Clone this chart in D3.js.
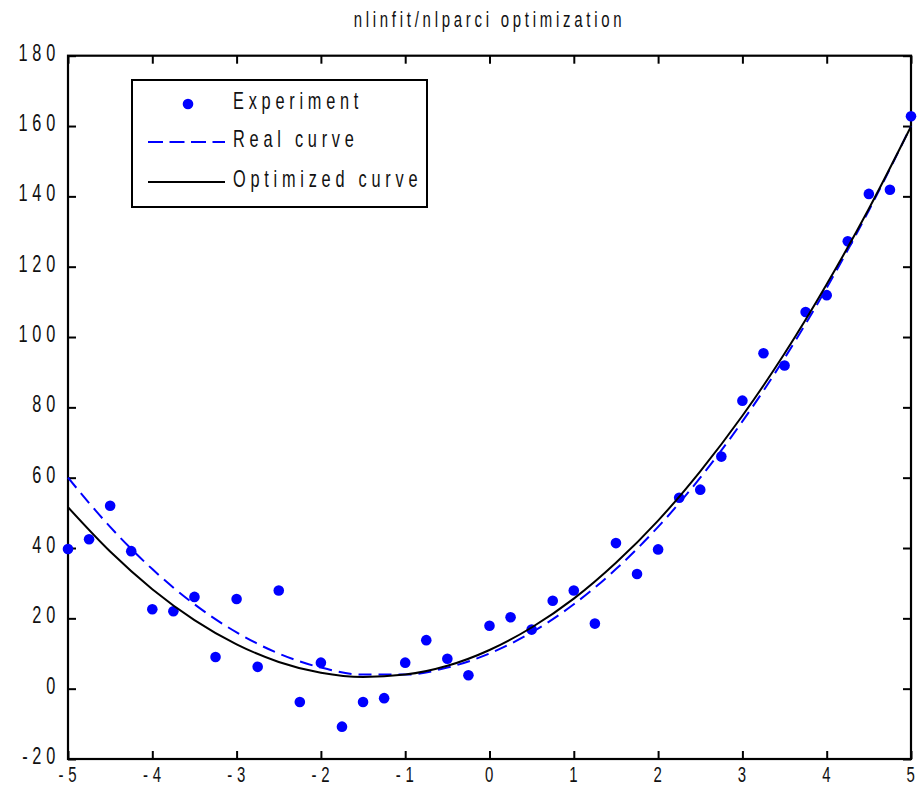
<!DOCTYPE html>
<html>
<head>
<meta charset="utf-8">
<script src="https://cdn.jsdelivr.net/npm/d3@7"></script>
<style>
  body { margin: 0; background: #fff; }
  svg { display: block; }
  text { font-family: "Liberation Sans", Arial, sans-serif; fill: #111; }
</style>
</head>
<body>
<div id="chart"></div>
<script>
'use strict';

// experiment x positions and measured values
var expX = [-5, -4.75, -4.5, -4.25, -4, -3.75, -3.5, -3.25, -3, -2.75, -2.5, -2.25, -2, -1.75, -1.5, -1.25, -1, -0.75, -0.5, -0.25,
            0, 0.25, 0.5, 0.75, 1, 1.25, 1.5, 1.75, 2, 2.25, 2.5, 2.75, 3, 3.25, 3.5, 3.75, 4, 4.25, 4.5, 4.75, 5];
var expY = [39.7, 42.5, 52.0, 39.1, 22.6, 22.0, 26.1, 9.0, 25.5, 6.2, 27.9, -3.8, 7.4, -10.8, -3.8, -2.7, 7.4, 13.8, 8.5, 3.8,
            17.9, 20.3, 16.8, 25.0, 27.9, 18.5, 41.4, 32.6, 39.6, 54.3, 56.6, 66.0, 81.9, 95.4, 91.9, 107.1, 111.9, 127.2, 140.7, 141.9, 162.8];

// curve sample positions
var curveX = [-5, -4.5, -4, -3.5, -3, -2.5, -2, -1.5, -1, -0.5, 0, 0.5, 1, 1.5, 2, 2.5, 3, 3.5, 4, 4.5, 5];
var realY  = [60, 46, 34, 24, 16, 10, 6, 4, 4, 6, 10, 16, 24, 34, 46, 60, 76, 94, 114, 136, 160];
var optY   = [51.6, 39.0, 28.3, 19.5, 12.6, 7.6, 4.5, 3.3, 4.0, 6.5, 11.0, 17.4, 25.6, 35.8, 47.8, 61.8, 77.6, 95.3, 115.0, 136.5, 159.9];

var xTicks = [-5, -4, -3, -2, -1, 0, 1, 2, 3, 4, 5];
var yTicks = [-20, 0, 20, 40, 60, 80, 100, 120, 140, 160, 180];

var legendLabels = ['Experiment', 'Real curve', 'Optimized curve'];
var titleText = 'nlinfit/nlparci optimization';

var W = 920, H = 788;
var plot = {left: 68, right: 911, top: 55.7, bottom: 759};
var blue = '#0000ff';

var svg = d3.select('#chart').append('svg')
  .attr('width', W)
  .attr('height', H);

var x = d3.scaleLinear().domain([-5, 5]).range([plot.left, plot.right]);
var y = d3.scaleLinear().domain([-20, 180]).range([plot.bottom, plot.top]);

// condensed, spaced text like the MATLAB export
function label(g, str, px, py, anchor, size, ls) {
  return g.append('text')
    .attr('transform', 'translate(' + px + ',' + py + ') scale(0.68,1)')
    .attr('text-anchor', anchor)
    .style('font-size', (size || 24) + 'px')
    .style('letter-spacing', (ls || 7) + 'px')
    .text(str);
}

// ticks on all four sides, pointing inward
var tk = 8;
svg.append('g').attr('transform', 'translate(0,' + plot.bottom + ')')
  .call(d3.axisBottom(x).tickValues(xTicks).tickSize(-tk).tickFormat(''));
svg.append('g').attr('transform', 'translate(0,' + plot.top + ')')
  .call(d3.axisTop(x).tickValues(xTicks).tickSize(-tk).tickFormat(''));
svg.append('g').attr('transform', 'translate(' + plot.left + ',0)')
  .call(d3.axisLeft(y).tickValues(yTicks).tickSize(-tk).tickFormat(''));
svg.append('g').attr('transform', 'translate(' + plot.right + ',0)')
  .call(d3.axisRight(y).tickValues(yTicks).tickSize(-tk).tickFormat(''));
svg.selectAll('.domain').remove();
svg.selectAll('.tick line').attr('stroke', '#000').attr('stroke-width', 2);

svg.append('rect')
  .attr('x', plot.left).attr('y', plot.top)
  .attr('width', plot.right - plot.left)
  .attr('height', plot.bottom - plot.top)
  .attr('fill', 'none')
  .attr('stroke', '#000')
  .attr('stroke-width', 2.2);

var labels = svg.append('g');
xTicks.forEach(function(v) {
  label(labels, String(v), x(v) + 2, plot.bottom + 23, 'middle', 22);
});
yTicks.forEach(function(v) {
  label(labels, String(v), plot.left - 8, y(v) + 5, 'end');
});
label(labels, titleText, (plot.left + plot.right) / 2, 27, 'middle', 22, 5.5);

// data
svg.append('g').selectAll('circle')
  .data(expX)
  .enter().append('circle')
  .attr('cx', function(d) { return x(d); })
  .attr('cy', function(d, i) { return y(expY[i]); })
  .attr('r', 5.3)
  .attr('fill', blue);

var line = d3.line()
  .x(function(d) { return x(d[0]); })
  .y(function(d) { return y(d[1]); })
  .curve(d3.curveMonotoneX);

svg.append('path')
  .datum(d3.zip(curveX, realY))
  .attr('d', line)
  .attr('fill', 'none')
  .attr('stroke', blue)
  .attr('stroke-width', 2)
  .attr('stroke-dasharray', '13,7');

svg.append('path')
  .datum(d3.zip(curveX, optY))
  .attr('d', line)
  .attr('fill', 'none')
  .attr('stroke', '#000')
  .attr('stroke-width', 2);

// legend
var lg = svg.append('g');
lg.append('rect')
  .attr('x', 132).attr('y', 80)
  .attr('width', 295).attr('height', 127)
  .attr('fill', '#fff')
  .attr('stroke', '#000')
  .attr('stroke-width', 2);
var rowY = [104, 142, 182];
lg.append('circle').attr('cx', 188).attr('cy', rowY[0]).attr('r', 5.3).attr('fill', blue);
lg.append('line')
  .attr('x1', 148).attr('x2', 225).attr('y1', rowY[1]).attr('y2', rowY[1])
  .attr('stroke', blue).attr('stroke-width', 2).attr('stroke-dasharray', '15,6.5');
lg.append('line')
  .attr('x1', 148).attr('x2', 225).attr('y1', rowY[2]).attr('y2', rowY[2])
  .attr('stroke', '#000').attr('stroke-width', 2);
legendLabels.forEach(function(t, i) {
  label(lg, t, 233, rowY[i] + 5, 'start');
});
</script>
</body>
</html>
